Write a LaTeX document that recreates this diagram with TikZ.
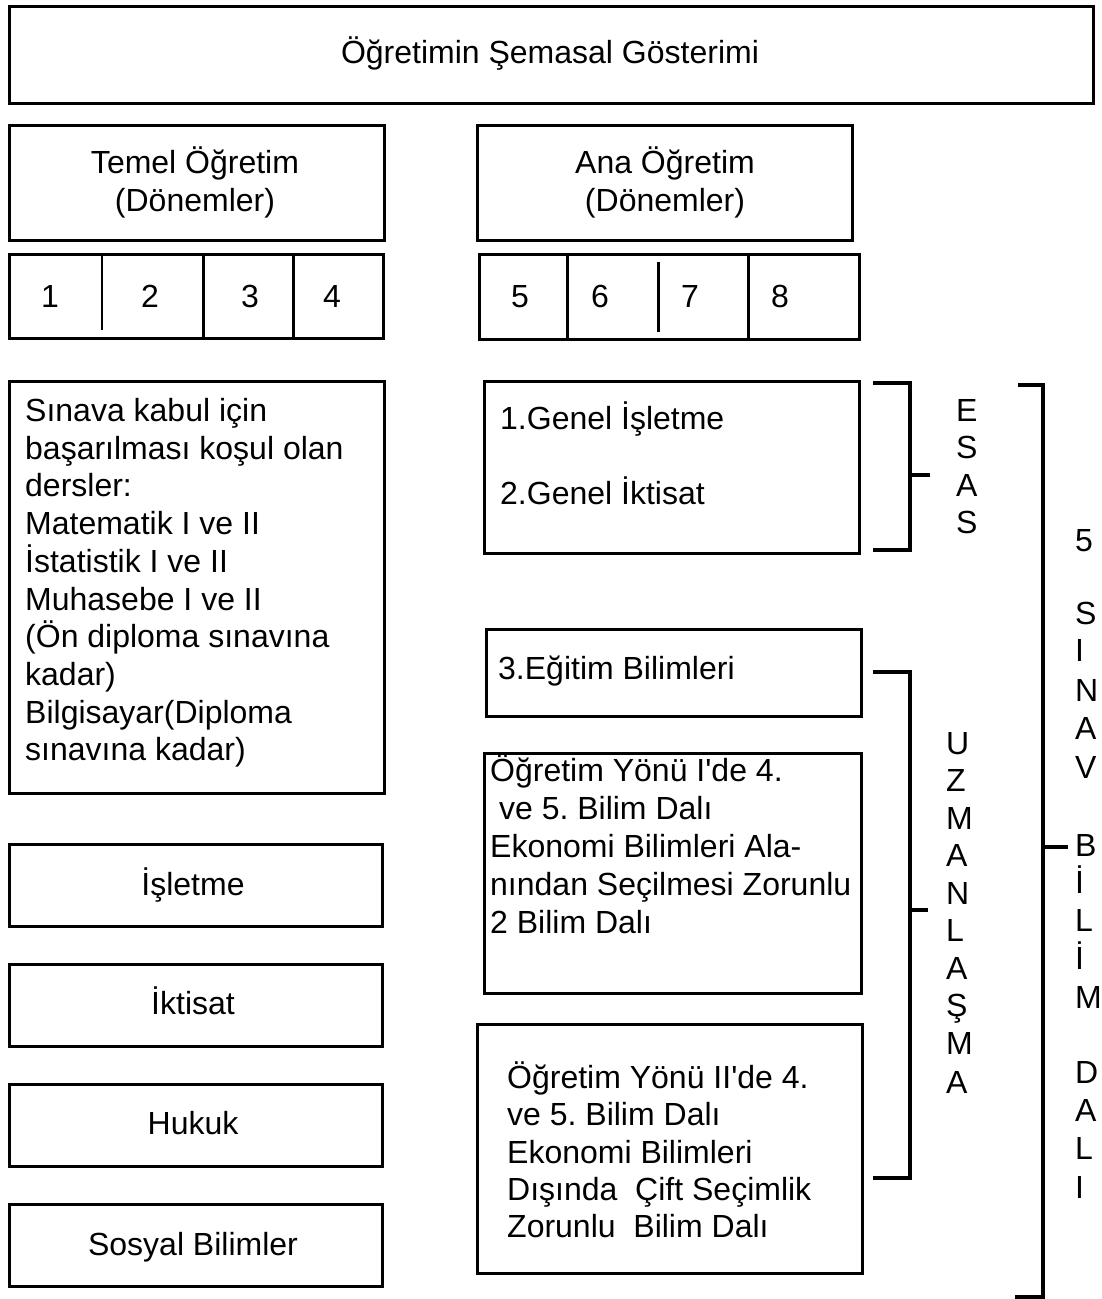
\documentclass[tikz,border=0pt]{standalone}
\usepackage{fontspec}
\setmainfont{Liberation Sans}
\frenchspacing
\begin{document}
\begin{tikzpicture}[x=1pt,y=-1pt,
  font=\fontsize{32}{37.5}\selectfont,
  box/.style={draw, line width=3pt, inner sep=0pt, anchor=north west},
  div/.style={line width=3pt},
  br/.style={line width=4.5pt},
  tl/.style={anchor=base west, inner sep=0pt},
  tc/.style={anchor=base, inner sep=0pt}]
\useasboundingbox (0,0) rectangle (1101,1299);
% boxes
\node[box, minimum width=1084pt, minimum height=97pt] (title) at (8,5) {};
\node[box, minimum width=375pt, minimum height=115pt] (temel) at (8,124) {};
\node[box, minimum width=375pt, minimum height=115pt] (ana) at (476,124) {};
\node[box, minimum width=374pt, minimum height=84pt] (nums1) at (8,253) {};
\node[box, minimum width=380pt, minimum height=85pt] (nums2) at (478,253) {};
\node[box, minimum width=375pt, minimum height=412pt] (sinav) at (8,380) {};
\node[box, minimum width=373pt, minimum height=82pt] (isletme) at (8,843) {};
\node[box, minimum width=373pt, minimum height=82pt] (iktisat) at (8,963) {};
\node[box, minimum width=373pt, minimum height=82pt] (hukuk) at (8,1083) {};
\node[box, minimum width=373pt, minimum height=82pt] (sosyal) at (8,1203) {};
\node[box, minimum width=375pt, minimum height=172pt] (genel) at (483,380) {};
\node[box, minimum width=375pt, minimum height=87pt] (egitim) at (485,628) {};
\node[box, minimum width=377pt, minimum height=240pt] (yonu1) at (483,752) {};
\node[box, minimum width=385pt, minimum height=249pt] (yonu2) at (476,1023) {};
% dividers
\draw[line width=2pt] (102,253) -- (102,330);
\draw[div] (203,253) -- (203,337);
\draw[div] (293,253) -- (293,337);
\draw[div] (567,253) -- (567,338);
\draw[div] (658,262) -- (658,332);
\draw[div] (748,253) -- (748,338);
% titles
\node[tc] (ttl) at (550,63.5) {Öğretimin Şemasal Gösterimi};
\node[tc] (tm1) at (195,173.5) {Temel Öğretim};
\node[tc] (tm2) at (195,211.5) {(Dönemler)};
\node[tc] (an1) at (665,173.5) {Ana Öğretim};
\node[tc] (an2) at (665,211.5) {(Dönemler)};
\foreach \n/\xx in {1/50,2/150,3/250,4/332,5/520,6/600,7/690,8/780}
  \node[tc] (n\n) at (\xx,307.5) {\n};
\node[tc] (tis) at (193,895.5) {İşletme};
\node[tc] (tik) at (193,1014.5) {İktisat};
\node[tc] (thu) at (193,1134.5) {Hukuk};
\node[tc] (tso) at (193,1255.5) {Sosyal Bilimler};
% left long text
\foreach \t [count=\i from 0] in {{Sınava kabul için},{başarılması koşul olan},{dersler:},{Matematik I ve II},{İstatistik I ve II},{Muhasebe I ve II},{(Ön diploma sınavına},{kadar)},{Bilgisayar(Diploma},{sınavına kadar)}}
  \node[tl] (s\i) at (25,{421.5+37.7*\i}) {\t};
% right texts
\node[tl] (g1) at (500,429.5) {1.Genel İşletme};
\node[tl] (g2) at (500,504.5) {2.Genel İktisat};
\node[tl] (e1) at (498,679.5) {3.Eğitim Bilimleri};
\foreach \t [count=\i from 0] in {{Öğretim Yönü I\textquotesingle de 4.},{\ ve 5. Bilim Dalı},{Ekonomi Bilimleri Ala-},{nından Seçilmesi Zorunlu},{2 Bilim Dalı}}
  \node[tl] (ya\i) at (490,{781.5+38*\i}) {\t};
\foreach \t [count=\i from 0] in {{Öğretim Yönü II\textquotesingle de 4.},{ve 5. Bilim Dalı},{Ekonomi Bilimleri},{Dışında\ \ Çift Seçimlik},{Zorunlu\ \ Bilim Dalı}}
  \node[tl] (yb\i) at (507,{1088.5+37.3*\i}) {\t};
% brackets
\coordinate (b1a) at (873,383); \coordinate (b1b) at (873,550);
\draw[br] (b1a) -- (910,383) -- (910,550) -- (b1b);
\draw[br] (910,475) -- (930,475);
\coordinate (b2a) at (873,672); \coordinate (b2b) at (873,1178);
\draw[br] (b2a) -- (910,672) -- (910,1178) -- (b2b);
\draw[br] (910,910) -- (928,910);
\coordinate (b3a) at (1018,385); \coordinate (b3b) at (1015,1297);
\draw[br] (b3a) -- (1043,385) -- (1043,1297) -- (b3b);
\draw[br] (1043,847) -- (1068,847);
% vertical words
\foreach \c/\yy in {E/410,S/447,A/485,S/522}
  \node[tl] (es\yy) at (956,{\yy+11.5}) {\c};
\foreach \c/\yy in {U/743,Z/780,M/818,A/855,N/893,L/930,A/968,Ş/1005,M/1043,A/1082}
  \node[tl] (uz\yy) at (946,{\yy+11.5}) {\c};
\foreach \c/\yy in {5/540,S/613,I/650,N/690,A/728,V/767,B/845,İ/882,L/920,İ/958,M/997,D/1072,A/1110,L/1148,I/1187}
  \node[tl] (sb\yy) at (1075,{\yy+11.5}) {\c};
\end{tikzpicture}
\end{document}
